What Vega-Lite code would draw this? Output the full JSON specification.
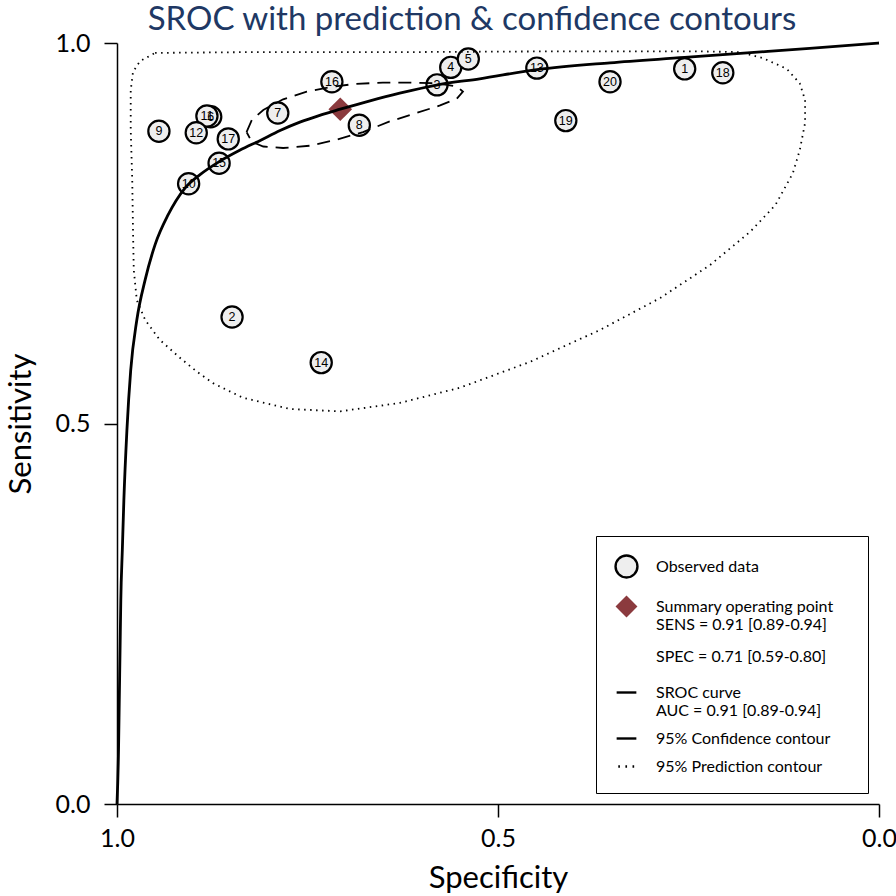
{
  "$schema": "https://vega.github.io/schema/vega-lite/v6.json",
  "width": 762,
  "height": 761,
  "autosize": {"type": "none"},
  "padding": {"left": 117, "top": 43, "right": 17, "bottom": 92},
  "background": "white",
  "config": {
    "view": {"stroke": null},
    "font": "Lato"
  },
  "title": {
    "text": "SROC with prediction & confidence contours",
    "font": "Lato",
    "fontSize": 33,
    "fontWeight": "normal",
    "color": "#203864",
    "anchor": "middle",
    "dx": -26,
    "offset": -6
  },
  "datasets": {
    "pts": [
      {"id": "1", "spec": 0.255, "sens": 0.966},
      {"id": "2", "spec": 0.849, "sens": 0.640},
      {"id": "3", "spec": 0.580, "sens": 0.945},
      {"id": "4", "spec": 0.562, "sens": 0.968},
      {"id": "5", "spec": 0.539, "sens": 0.979},
      {"id": "6", "spec": 0.877, "sens": 0.903},
      {"id": "7", "spec": 0.789, "sens": 0.908},
      {"id": "8", "spec": 0.682, "sens": 0.892},
      {"id": "9", "spec": 0.945, "sens": 0.884},
      {"id": "10", "spec": 0.906, "sens": 0.815},
      {"id": "11", "spec": 0.882, "sens": 0.904},
      {"id": "12", "spec": 0.896, "sens": 0.882},
      {"id": "13", "spec": 0.449, "sens": 0.967},
      {"id": "14", "spec": 0.732, "sens": 0.580},
      {"id": "15", "spec": 0.866, "sens": 0.842},
      {"id": "16", "spec": 0.718, "sens": 0.949},
      {"id": "17", "spec": 0.854, "sens": 0.874},
      {"id": "18", "spec": 0.205, "sens": 0.961},
      {"id": "19", "spec": 0.411, "sens": 0.898},
      {"id": "20", "spec": 0.353, "sens": 0.949}
    ],
    "summary": [{"spec": 0.707, "sens": 0.913}],
    "sroc": [
      {"i": 1, "spec": 1.0, "sens": 0.0},
      {"i": 2, "spec": 0.998, "sens": 0.071},
      {"i": 3, "spec": 0.997, "sens": 0.137},
      {"i": 4, "spec": 0.996, "sens": 0.202},
      {"i": 5, "spec": 0.995, "sens": 0.268},
      {"i": 6, "spec": 0.993, "sens": 0.334},
      {"i": 7, "spec": 0.991, "sens": 0.399},
      {"i": 8, "spec": 0.987, "sens": 0.491},
      {"i": 9, "spec": 0.982, "sens": 0.570},
      {"i": 10, "spec": 0.974, "sens": 0.636},
      {"i": 11, "spec": 0.963, "sens": 0.689},
      {"i": 12, "spec": 0.950, "sens": 0.735},
      {"i": 13, "spec": 0.933, "sens": 0.774},
      {"i": 14, "spec": 0.911, "sens": 0.809},
      {"i": 15, "spec": 0.891, "sens": 0.827},
      {"i": 16, "spec": 0.866, "sens": 0.844},
      {"i": 17, "spec": 0.839, "sens": 0.859},
      {"i": 18, "spec": 0.812, "sens": 0.872},
      {"i": 19, "spec": 0.786, "sens": 0.885},
      {"i": 20, "spec": 0.760, "sens": 0.896},
      {"i": 21, "spec": 0.734, "sens": 0.905},
      {"i": 22, "spec": 0.707, "sens": 0.913},
      {"i": 23, "spec": 0.668, "sens": 0.924},
      {"i": 24, "spec": 0.629, "sens": 0.934},
      {"i": 25, "spec": 0.579, "sens": 0.945},
      {"i": 26, "spec": 0.524, "sens": 0.953},
      {"i": 27, "spec": 0.449, "sens": 0.965},
      {"i": 28, "spec": 0.353, "sens": 0.974},
      {"i": 29, "spec": 0.255, "sens": 0.981},
      {"i": 30, "spec": 0.173, "sens": 0.987},
      {"i": 31, "spec": 0.091, "sens": 0.993},
      {"i": 32, "spec": 0.0, "sens": 1.0}
    ],
    "conf": [
      {"i": 1, "spec": 0.830, "sens": 0.883},
      {"i": 2, "spec": 0.823, "sens": 0.899},
      {"i": 3, "spec": 0.808, "sens": 0.912},
      {"i": 4, "spec": 0.782, "sens": 0.926},
      {"i": 5, "spec": 0.751, "sens": 0.936},
      {"i": 6, "spec": 0.720, "sens": 0.942},
      {"i": 7, "spec": 0.690, "sens": 0.946},
      {"i": 8, "spec": 0.651, "sens": 0.948},
      {"i": 9, "spec": 0.615, "sens": 0.948},
      {"i": 10, "spec": 0.580, "sens": 0.947},
      {"i": 11, "spec": 0.554, "sens": 0.943},
      {"i": 12, "spec": 0.546, "sens": 0.936},
      {"i": 13, "spec": 0.554, "sens": 0.927},
      {"i": 14, "spec": 0.576, "sens": 0.918},
      {"i": 15, "spec": 0.607, "sens": 0.908},
      {"i": 16, "spec": 0.642, "sens": 0.897},
      {"i": 17, "spec": 0.677, "sens": 0.883},
      {"i": 18, "spec": 0.712, "sens": 0.873},
      {"i": 19, "spec": 0.747, "sens": 0.865},
      {"i": 20, "spec": 0.782, "sens": 0.862},
      {"i": 21, "spec": 0.808, "sens": 0.864},
      {"i": 22, "spec": 0.823, "sens": 0.870},
      {"i": 23, "spec": 0.830, "sens": 0.883}
    ],
    "pred": [
      {"i": 1, "spec": 0.950, "sens": 0.987},
      {"i": 2, "spec": 0.825, "sens": 0.988},
      {"i": 3, "spec": 0.629, "sens": 0.988},
      {"i": 4, "spec": 0.432, "sens": 0.989},
      {"i": 5, "spec": 0.235, "sens": 0.989},
      {"i": 6, "spec": 0.182, "sens": 0.988},
      {"i": 7, "spec": 0.152, "sens": 0.980},
      {"i": 8, "spec": 0.121, "sens": 0.966},
      {"i": 9, "spec": 0.104, "sens": 0.947},
      {"i": 10, "spec": 0.097, "sens": 0.925},
      {"i": 11, "spec": 0.097, "sens": 0.895},
      {"i": 12, "spec": 0.104, "sens": 0.859},
      {"i": 13, "spec": 0.113, "sens": 0.829},
      {"i": 14, "spec": 0.136, "sens": 0.787},
      {"i": 15, "spec": 0.169, "sens": 0.752},
      {"i": 16, "spec": 0.222, "sens": 0.708},
      {"i": 17, "spec": 0.287, "sens": 0.665},
      {"i": 18, "spec": 0.366, "sens": 0.623},
      {"i": 19, "spec": 0.458, "sens": 0.581},
      {"i": 20, "spec": 0.550, "sens": 0.547},
      {"i": 21, "spec": 0.629, "sens": 0.527},
      {"i": 22, "spec": 0.707, "sens": 0.516},
      {"i": 23, "spec": 0.773, "sens": 0.519},
      {"i": 24, "spec": 0.835, "sens": 0.534},
      {"i": 25, "spec": 0.874, "sens": 0.553},
      {"i": 26, "spec": 0.895, "sens": 0.568},
      {"i": 27, "spec": 0.917, "sens": 0.586},
      {"i": 28, "spec": 0.944, "sens": 0.610},
      {"i": 29, "spec": 0.963, "sens": 0.636},
      {"i": 30, "spec": 0.974, "sens": 0.662},
      {"i": 31, "spec": 0.978, "sens": 0.702},
      {"i": 32, "spec": 0.979, "sens": 0.754},
      {"i": 33, "spec": 0.980, "sens": 0.820},
      {"i": 34, "spec": 0.982, "sens": 0.886},
      {"i": 35, "spec": 0.982, "sens": 0.938},
      {"i": 36, "spec": 0.979, "sens": 0.962},
      {"i": 37, "spec": 0.970, "sens": 0.976},
      {"i": 38, "spec": 0.950, "sens": 0.987}
    ],
    "legend": [
      {"key": "Observed data"},
      {"key": "Summary operating point"},
      {"key": "SPEC = 0.71 [0.59-0.80]"},
      {"key": "SROC curve"},
      {"key": "95% Confidence contour"},
      {"key": "95% Prediction contour"}
    ]
  },
  "encoding": {
    "x": {
      "field": "spec", "type": "quantitative",
      "scale": {"domain": [0, 1], "reverse": true, "nice": false, "zero": false},
      "axis": {
        "title": "Specificity", "values": [0, 0.5, 1], "format": ".1f",
        "grid": false, "domainColor": "black", "domainWidth": 1.5,
        "tickColor": "black", "tickWidth": 1.5, "tickSize": 13,
        "labelFont": "Lato", "labelFontSize": 25, "labelColor": "black",
        "labelPadding": 9, "labelFlush": false, "labelOverlap": false, "labelBound": false,
        "titleFont": "Lato", "titleFontSize": 31, "titleFontWeight": "normal", "titleColor": "black",
        "titlePadding": 12
      }
    },
    "y": {
      "field": "sens", "type": "quantitative",
      "scale": {"domain": [0, 1], "nice": false, "zero": false},
      "axis": {
        "title": "Sensitivity", "values": [0, 0.5, 1], "format": ".1f",
        "grid": false, "domainColor": "black", "domainWidth": 1.5,
        "tickColor": "black", "tickWidth": 1.5, "tickSize": 13,
        "labelFont": "Lato", "labelFontSize": 25, "labelColor": "black",
        "labelPadding": 14, "labelFlush": false, "labelOverlap": false, "labelBound": false,
        "titleFont": "Lato", "titleFontSize": 31, "titleFontWeight": "normal", "titleColor": "black",
        "titlePadding": 18
      }
    }
  },
  "layer": [
    {
      "data": {"name": "pts"},
      "mark": {"type": "point", "shape": "circle", "filled": true, "fill": "#eeeeee", "stroke": "black", "strokeWidth": 2.2, "size": 450, "opacity": 1}
    },
    {
      "data": {"name": "pts"},
      "mark": {"type": "text", "font": "Liberation Sans", "fontSize": 12.5, "color": "black", "align": "center", "baseline": "middle"},
      "encoding": {"text": {"field": "id"}}
    },
    {
      "data": {"name": "pred"},
      "mark": {"type": "line", "color": "black", "strokeWidth": 1.8, "strokeDash": [1.5, 4.5], "interpolate": "linear"},
      "encoding": {"order": {"field": "i", "type": "quantitative"}}
    },
    {
      "data": {"name": "conf"},
      "mark": {"type": "line", "color": "black", "strokeWidth": 1.8, "strokeDash": [13, 8], "interpolate": "linear"},
      "encoding": {"order": {"field": "i", "type": "quantitative"}}
    },
    {
      "data": {"name": "summary"},
      "mark": {"type": "point", "shape": "diamond", "filled": true, "fill": "#8b3a3e", "size": 560, "opacity": 1}
    },
    {
      "data": {"name": "sroc"},
      "mark": {"type": "line", "color": "black", "strokeWidth": 2.8, "interpolate": "monotone"},
      "encoding": {"order": {"field": "i", "type": "quantitative"}}
    },
    {
      "data": {"name": "legend"},
      "mark": {"type": "point", "opacity": 0, "filled": true},
      "encoding": {
        "x": {"datum": 0.5},
        "y": {"datum": 0.5},
        "shape": {
          "field": "key", "type": "nominal",
          "scale": {
            "domain": ["Observed data", "Summary operating point", "SPEC = 0.71 [0.59-0.80]", "SROC curve", "95% Confidence contour", "95% Prediction contour"],
            "range": ["circle", "diamond", "circle", "M-0.9,0H0.9", "M-0.9,0H0.9", "M-0.75,0H-0.6M-0.1,0H0.05M0.55,0H0.7"]
          },
          "legend": {
            "title": null,
            "orient": "bottom-right",
            "offset": 11,
            "padding": 18,
            "strokeColor": "black",
            "fillColor": "white",
            "symbolSize": 480,
            "symbolStrokeWidth": 2.4,
            "symbolOpacity": 1,
            "labelFont": "Lato",
            "labelFontSize": 16,
            "labelColor": "black",
            "labelOffset": 17,
            "labelLimit": 400,
            "rowPadding": 7,
            "labelExpr": "datum.label == 'Summary operating point' ? ['Summary operating point\u00a0\u2800', 'SENS = 0.91 [0.89-0.94]'] : datum.label == 'SROC curve' ? ['SROC curve', 'AUC = 0.91 [0.89-0.94]'] : datum.label",
            "encode": {
              "legend": {"update": {"strokeWidth": {"value": 1.5}}},
              "symbols": {"update": {
                "opacity": {"value": 1},
                "fillOpacity": {"value": 1},
                "strokeOpacity": {"value": 1},
                "fill": {"signal": "datum.value == 'Observed data' ? '#eeeeee' : datum.value == 'Summary operating point' ? '#8b3a3e' : 'transparent'"},
                "stroke": {"signal": "datum.value == 'Observed data' || datum.value == 'SROC curve' || datum.value == '95% Confidence contour' || datum.value == '95% Prediction contour' ? 'black' : 'transparent'"}
              }},
              "labels": {"update": {"lineHeight": {"value": 19}}}
            }
          }
        },
        "fill": {
          "field": "key", "type": "nominal",
          "scale": {
            "domain": ["Observed data", "Summary operating point", "SPEC = 0.71 [0.59-0.80]", "SROC curve", "95% Confidence contour", "95% Prediction contour"],
            "range": ["#eeeeee", "#8b3a3e", "transparent", "transparent", "transparent", "transparent"]
          },
          "legend": {"title": null}
        },
        "stroke": {
          "field": "key", "type": "nominal",
          "scale": {
            "domain": ["Observed data", "Summary operating point", "SPEC = 0.71 [0.59-0.80]", "SROC curve", "95% Confidence contour", "95% Prediction contour"],
            "range": ["black", "transparent", "transparent", "black", "black", "black"]
          },
          "legend": {"title": null}
        }
      }
    }
  ]
}
